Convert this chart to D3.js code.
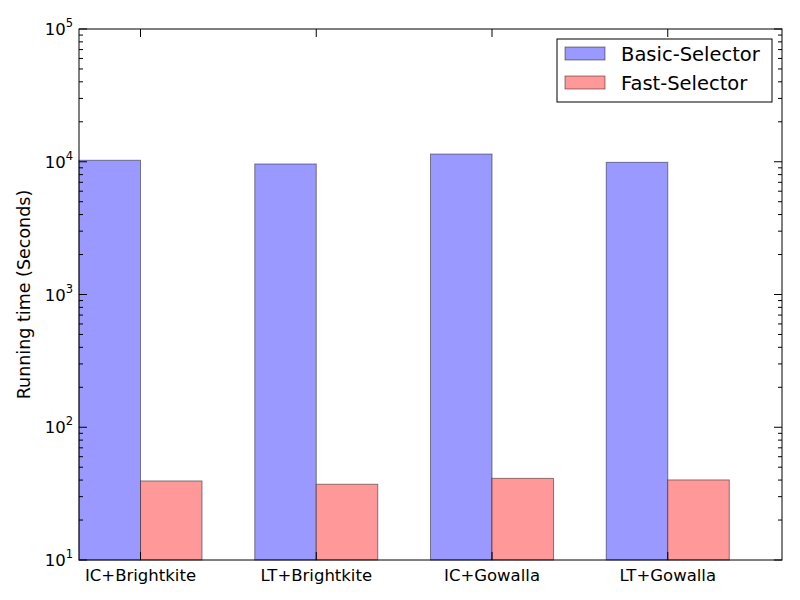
<!DOCTYPE html>
<html>
<head>
<meta charset="utf-8">
<script src="https://cdn.jsdelivr.net/npm/d3@7"></script>
<style>
  body { margin: 0; background: #fff; }
  text { font-family: "DejaVu Sans", sans-serif; }
</style>
</head>
<body>
<div id="chart"></div>
<script>
// data
var categories = ["IC+Brightkite", "LT+Brightkite", "IC+Gowalla", "LT+Gowalla"];
var basicSelector = [10260, 9620, 11430, 9900];
var fastSelector = [39.4, 37.2, 41.2, 40.1];
var seriesNames = ["Basic-Selector", "Fast-Selector"];
var yTickExps = [1, 2, 3, 4, 5];

var w = 800, h = 600;
var margin = {left: 79, right: 18, top: 29, bottom: 40};
var barWidth = 0.35;

var svg = d3.select("#chart").append("svg")
  .attr("width", w)
  .attr("height", h);

// scales
var x = d3.scaleLinear()
  .domain([0, categories.length])
  .range([margin.left, w - margin.right]);

var y = d3.scaleLog()
  .domain([10, 100000])
  .range([h - margin.bottom, margin.top]);

var series = [
  {name: seriesNames[0], values: basicSelector, fill: "#9999ff", offset: 0},
  {name: seriesNames[1], values: fastSelector, fill: "#ff9999", offset: barWidth}
];

// bars
series.forEach(function(s) {
  svg.append("g").selectAll("rect")
    .data(s.values)
    .enter()
    .append("rect")
    .attr("x", function(d, i) { return x(i + s.offset); })
    .attr("width", x(barWidth) - x(0))
    .attr("y", function(d) { return y(d); })
    .attr("height", function(d) { return y(10) - y(d); })
    .attr("fill", s.fill)
    .attr("stroke", "#000")
    .attr("stroke-opacity", 0.45)
    .attr("stroke-width", 1);
});

// ticks (inward, all four sides)
var x0 = x.range()[0], x1 = x.range()[1];
var y0 = y.range()[0], y1 = y.range()[1];
var ticks = svg.append("g").attr("stroke", "#000").attr("stroke-width", 1);

var minorVals = [];
for (var e = 1; e < 5; e++) {
  for (var m = 2; m < 10; m++) minorVals.push(m * Math.pow(10, e));
}
minorVals.forEach(function(v) {
  ticks.append("line").attr("x1", x0).attr("x2", x0 + 4).attr("y1", y(v)).attr("y2", y(v));
  ticks.append("line").attr("x1", x1).attr("x2", x1 - 4).attr("y1", y(v)).attr("y2", y(v));
});
yTickExps.forEach(function(e) {
  var v = Math.pow(10, e);
  ticks.append("line").attr("x1", x0).attr("x2", x0 + 8).attr("y1", y(v)).attr("y2", y(v));
  ticks.append("line").attr("x1", x1).attr("x2", x1 - 8).attr("y1", y(v)).attr("y2", y(v));
});
categories.forEach(function(c, i) {
  var cx = x(i + barWidth);
  ticks.append("line").attr("x1", cx).attr("x2", cx).attr("y1", y0).attr("y2", y0 - 8);
  ticks.append("line").attr("x1", cx).attr("x2", cx).attr("y1", y1).attr("y2", y1 + 8);
});

// frame
svg.append("rect")
  .attr("x", x0).attr("y", y1)
  .attr("width", x1 - x0).attr("height", y0 - y1)
  .attr("fill", "none").attr("stroke", "#000").attr("stroke-width", 1);

// y tick labels 10^n
yTickExps.forEach(function(e) {
  var t = svg.append("text")
    .attr("x", x0 - 6)
    .attr("y", y(Math.pow(10, e)) + 6)
    .attr("text-anchor", "end")
    .attr("font-size", 16.5);
  t.append("tspan").text("10");
  t.append("tspan").attr("dy", -8).attr("font-size", 11.5).text(e);
});

// x tick labels
svg.append("g").selectAll("text")
  .data(categories)
  .enter()
  .append("text")
  .attr("x", function(d, i) { return x(i + barWidth); })
  .attr("y", y0 + 21)
  .attr("text-anchor", "middle")
  .attr("font-size", 16.5)
  .text(function(d) { return d; });

// y label
svg.append("text")
  .attr("transform", "translate(30," + ((y0 + y1) / 2) + ") rotate(-90)")
  .attr("text-anchor", "middle")
  .attr("font-size", 17.5)
  .text("Running time (Seconds)");

// legend
var legend = svg.append("g").attr("transform", "translate(557,39)");
legend.append("rect")
  .attr("width", 215).attr("height", 63)
  .attr("fill", "#fff").attr("stroke", "#000").attr("stroke-width", 1);
series.forEach(function(s, i) {
  legend.append("rect")
    .attr("x", 8).attr("y", 8 + i * 29)
    .attr("width", 40).attr("height", 13)
    .attr("fill", s.fill)
    .attr("stroke", "#000").attr("stroke-opacity", 0.45);
  legend.append("text")
    .attr("x", 64).attr("y", 22 + i * 29)
    .attr("font-size", 19.5)
    .text(s.name);
});
</script>
</body>
</html>
